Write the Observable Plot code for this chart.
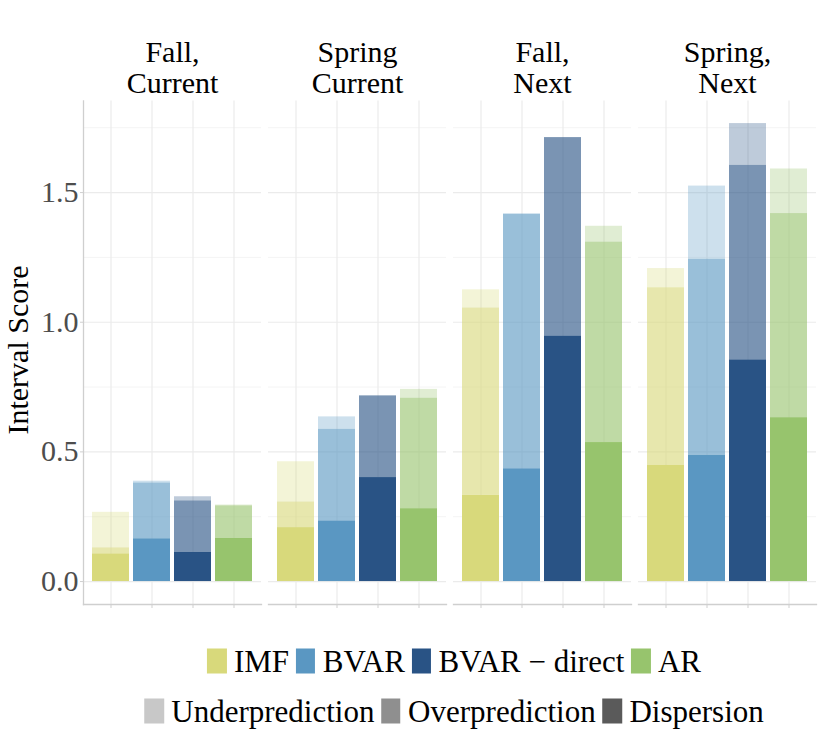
<!DOCTYPE html>
<html>
<head>
<meta charset="utf-8">
<script src="https://cdn.jsdelivr.net/npm/d3@7"></script>
<script src="https://cdn.jsdelivr.net/npm/@observablehq/plot@0.6"></script>
<style>
  html, body { margin: 0; padding: 0; background: #fff; }
  #wrap { position: relative; width: 830px; height: 738px; overflow: hidden; font-family: "Liberation Serif", "Times New Roman", Times, serif; }
  #chart { position: absolute; left: 0; top: 0; }
  #ylab { position: absolute; left: 18px; top: 350px; transform: translate(-50%, -50%) rotate(-90deg); font-size: 30px; color: #000; white-space: nowrap; }
  .lrow { position: absolute; left: 454px; transform: translate(-50%, -50%); display: flex; align-items: center; height: 25px; font-size: 31px; color: #000; white-space: nowrap; }
  .sw { width: 19.5px; height: 25px; margin-right: 7.5px; flex: none; }
  .it { display: flex; align-items: center; margin-right: 6.7px; }
  .it:last-child { margin-right: 0; }
</style>
</head>
<body>
<div id="wrap">
  <div id="chart"></div>
  <div id="ylab">Interval Score</div>
  <div class="lrow" id="leg1" style="top:661px;"></div>
  <div class="lrow" id="leg2" style="top:711px;"></div>
</div>
<script>
// ---- data ----
const facets = ["Fall,\nCurrent", "Spring\nCurrent", "Fall,\nNext", "Spring,\nNext"];
const models = ["IMF", "BVAR", "BVAR \u2212 direct", "AR"];
const components = ["Dispersion", "Overprediction", "Underprediction"];
// values per facet (rows) and model (columns)
const dispersion = [
  [0.107, 0.165, 0.112, 0.166],
  [0.208, 0.234, 0.401, 0.281],
  [0.332, 0.435, 0.947, 0.536],
  [0.449, 0.486, 0.855, 0.632]
];
const overprediction = [
  [0.023, 0.215, 0.199, 0.126],
  [0.099, 0.353, 0.315, 0.426],
  [0.723, 0.982, 0.765, 0.773],
  [0.684, 0.757, 0.750, 0.787]
];
const underprediction = [
  [0.137, 0.007, 0.016, 0.003],
  [0.155, 0.048, 0.000, 0.034],
  [0.070, 0.000, 0.000, 0.061],
  [0.074, 0.282, 0.161, 0.172]
];
const yTicks = [0, 0.5, 1.0, 1.5];
const yMinor = [0.25, 0.75, 1.25, 1.75];

// ---- styles ----
const modelColors = ["#D8D97B", "#5A97C2", "#295385", "#97C46D"];
const compAlpha = {"Dispersion": 1, "Overprediction": 0.62, "Underprediction": 0.3};
const compLegendColors = ["#C8C8C8", "#8F8F8F", "#5A5A5A"];
const legendComps = ["Underprediction", "Overprediction", "Dispersion"];

const table = [];
const sources = {"Dispersion": dispersion, "Overprediction": overprediction, "Underprediction": underprediction};
facets.forEach((f, fi) => {
  models.forEach((m, mi) => {
    components.forEach((c) => {
      table.push({facet: f, model: m, component: c, value: sources[c][fi][mi]});
    });
  });
});

const font = '"Liberation Serif", "Times New Roman", Times, serif';
const plot = Plot.plot({
  width: 830,
  height: 620,
  marginTop: 100.4,
  marginBottom: 16,
  marginLeft: 82,
  marginRight: 13,
  style: {fontFamily: font, background: "white"},
  fx: {domain: facets, paddingInner: 0.04, paddingOuter: 0},
  x: {domain: models, paddingInner: 0.1, paddingOuter: 0.17},
  y: {domain: [-0.0885, 1.8535]},
  color: {domain: models, range: modelColors},
  opacity: {domain: [0, 1], range: [0, 1]},
  marks: [
    Plot.gridY(yMinor, {stroke: "#f4f4f4", strokeOpacity: 1, strokeWidth: 1}),
    Plot.gridY(yTicks, {stroke: "#ebebeb", strokeOpacity: 1, strokeWidth: 1.2}),
    Plot.gridX(models, {stroke: "#ebebeb", strokeOpacity: 1, strokeWidth: 1.2}),
    Plot.barY(table, {
      fx: "facet",
      x: "model",
      y: "value",
      fill: "model",
      fillOpacity: d => compAlpha[d.component]
    }),
    Plot.frame({anchor: "bottom", stroke: "#cfcfcf", strokeWidth: 1.3}),
    Plot.frame({anchor: "left", facetAnchor: "left", stroke: "#cfcfcf", strokeWidth: 1.3}),
    Plot.axisX({tickSize: 4, tickFormat: () => "", stroke: "#cfcfcf", label: null}),
    Plot.axisY({ticks: yTicks, tickFormat: d3.format(".1f"), tickSize: 3, tickPadding: 2,
      fontSize: 30, fill: "#4D4D4D", stroke: "#cfcfcf", label: null}),
    Plot.axisFx({anchor: "top", label: null, tickSize: 0, tickPadding: 8, fontSize: 30,
      lineHeight: 1.03, fill: "#000"})
  ]
});
document.getElementById("chart").appendChild(plot);

// ---- legend ----
const leg1 = document.getElementById("leg1");
models.forEach((m, i) => {
  const it = document.createElement("div");
  it.className = "it";
  it.innerHTML = `<div class="sw" style="background:${modelColors[i]}"></div><span>${m}</span>`;
  leg1.appendChild(it);
});
const leg2 = document.getElementById("leg2");
legendComps.forEach((c, i) => {
  const it = document.createElement("div");
  it.className = "it";
  it.innerHTML = `<div class="sw" style="background:${compLegendColors[i]}"></div><span>${c}</span>`;
  leg2.appendChild(it);
});
</script>
</body>
</html>
